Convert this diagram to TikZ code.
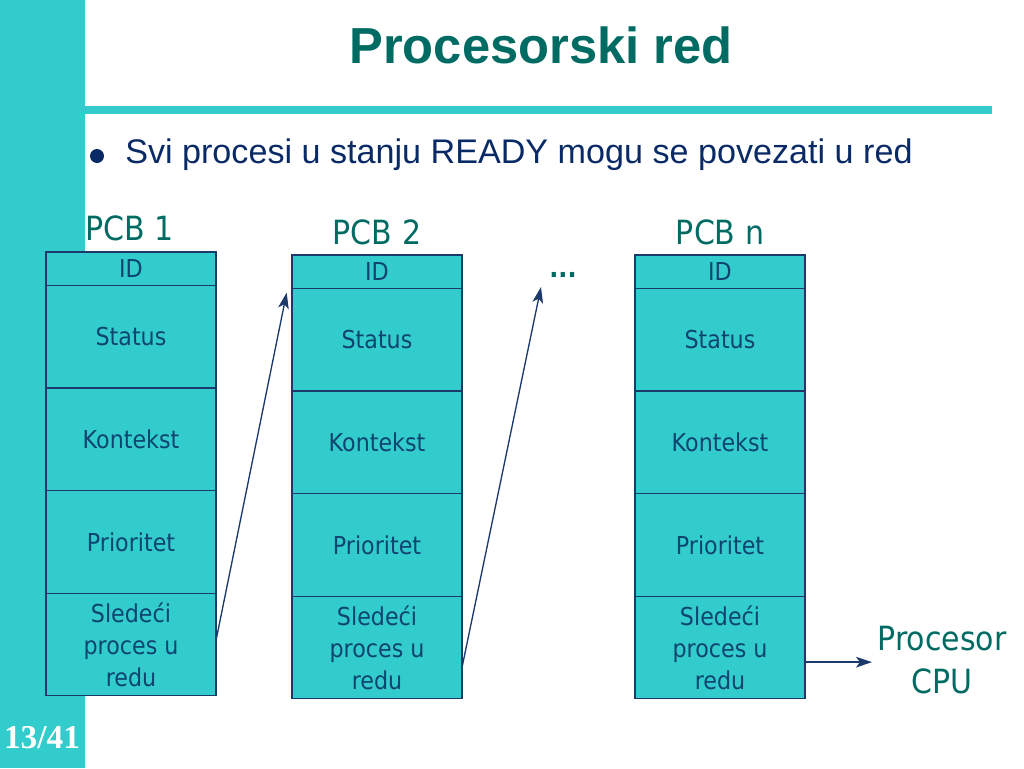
\documentclass[tikz,border=0pt]{standalone}
\usepackage{fontspec}
\setmainfont{Liberation Sans}
\newfontfamily\tahoma[FakeStretch=0.9]{DejaVu Sans}
\newfontfamily\timesfont{Liberation Serif}
\usepackage{tikz}
\usetikzlibrary{positioning,arrows.meta}

\definecolor{slideteal}{HTML}{33CCCC}
\definecolor{cellline}{HTML}{1B3A6B}
\definecolor{celltext}{HTML}{0E4470}
\definecolor{labelteal}{HTML}{006B63}
\definecolor{bullettext}{HTML}{0A2A66}

\begin{document}
\begin{tikzpicture}[x=0.75pt,y=-0.75pt,
  cell/.style={draw=cellline,line width=1pt,fill=slideteal,outer sep=0pt,inner sep=0pt,
    minimum width=127.5pt,minimum height=76.9pt,align=center,text=celltext,
    font=\tahoma\fontsize{18.5}{24}\selectfont},
  idcell/.style={cell,minimum height=25.2pt},
  pcblabel/.style={text=labelteal,font=\tahoma\fontsize{25}{30}\selectfont},
  link/.style={->,>={Stealth[length=12pt,width=8pt,inset=3pt]},draw=cellline,line width=1pt}]

  \useasboundingbox (0,0) rectangle (1024,768);

  % slide background
  \fill[slideteal] (0,0) rectangle (85,768);
  \fill[slideteal] (85,106) rectangle (992,114);
  \node[text=labelteal,font=\bfseries\fontsize{38}{44}\selectfont] (title) at (541,45) {Procesorski red};
  \fill[bullettext] (97,156) circle (7);
  \node[anchor=west,text=bullettext,font=\fontsize{25.6}{32}\selectfont,inner sep=0pt] (bullet) at (125,155) {Svi procesi u stanju READY mogu se povezati u red};
  \node[text=white,font=\timesfont\bfseries\fontsize{25}{30}\selectfont] (page) at (42,738) {13/41};

  % PCB 1
  \node[idcell,anchor=north] (id1) at (131,252) {ID};
  \node[cell,below=0pt of id1] (st1) {Status};
  \node[cell,below=0pt of st1] (ko1) {Kontekst};
  \node[cell,below=0pt of ko1] (pr1) {Prioritet};
  \node[cell,below=0pt of pr1] (sl1) {Sledeći\\proces u\\redu};
  \node[pcblabel] (pcb1) at (130,228) {PCB 1};

  % PCB 2
  \node[idcell,anchor=north] (id2) at (377,255) {ID};
  \node[cell,below=0pt of id2] (st2) {Status};
  \node[cell,below=0pt of st2] (ko2) {Kontekst};
  \node[cell,below=0pt of ko2] (pr2) {Prioritet};
  \node[cell,below=0pt of pr2] (sl2) {Sledeći\\proces u\\redu};
  \node[pcblabel] (pcb2) at (377,232) {PCB 2};

  % PCB n
  \node[idcell,anchor=north] (idn) at (720,255) {ID};
  \node[cell,below=0pt of idn] (stn) {Status};
  \node[cell,below=0pt of stn] (kon) {Kontekst};
  \node[cell,below=0pt of kon] (prn) {Prioritet};
  \node[cell,below=0pt of prn] (sln) {Sledeći\\proces u\\redu};
  \node[pcblabel] (pcbn) at (720,232) {PCB n};

  \node[text=labelteal,font=\tahoma\bfseries\fontsize{20}{24}\selectfont] (dots) at (563,275) {...};
  \node[text=labelteal,align=center,font=\tahoma\fontsize{25}{32}\selectfont,inner sep=0pt] (cpu) at (942,660) {Procesor\\CPU};

  % links
  \coordinate (from1) at ([yshift=3pt]sl1.east);
  \coordinate (to1) at ([xshift=-4pt,yshift=-3pt]st2.north west);
  \coordinate (from2) at ([yshift=-15pt]sl2.east);
  \coordinate (to2) at (541,287);
  \coordinate (fromn) at ([yshift=-11pt]sln.east);
  \coordinate (ton) at (872,0);

  \path (from1) edge[link] (to1);
  \path (from2) edge[link] (to2);
  \path (fromn) edge[link] (fromn -| ton);

\end{tikzpicture}
\end{document}
